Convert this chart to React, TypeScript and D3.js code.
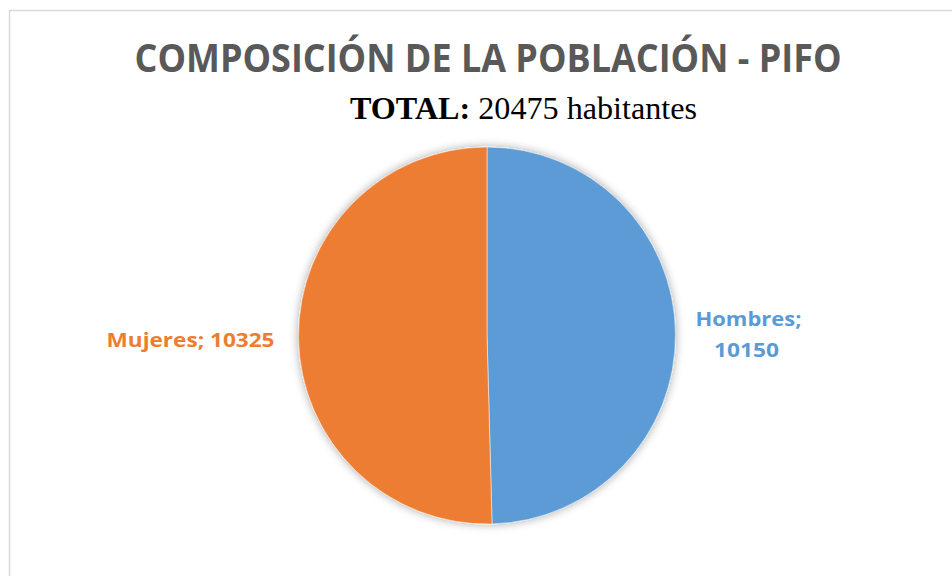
import React from "react";
import * as d3 from "d3";

const categories = ["Hombres", "Mujeres"];
const values = [10150, 10325];
const colors = ["#5b9bd5", "#ed7d31"];
const title = "COMPOSICIÓN DE LA POBLACIÓN - PIFO";
const subtitleBold = "TOTAL:";
const subtitleRest = " 20475 habitantes";

const W = 952;
const H = 576;
const cx = 487;
const cy = 335.5;
const R = 188.5;

export default function App() {
  const data = categories.map((c, i) => ({ name: c, value: values[i], color: colors[i] }));
  const pie = d3.pie<any>().sort(null).value((d: any) => d.value);
  const arcs = pie(data);
  const arcGen = d3.arc<any>().innerRadius(0).outerRadius(R);

  const labelPos = (a: any, dist: number) => {
    const mid = (a.startAngle + a.endAngle) / 2;
    return [cx + Math.sin(mid) * dist, cy - Math.cos(mid) * dist];
  };

  const hom = arcs[0];
  const muj = arcs[1];
  const [hx] = labelPos(hom, R + 73);
  const [mx] = labelPos(muj, R + 108);

  return (
    <svg
      width={W}
      height={H}
      style={{ position: "absolute", left: 0, top: 0, background: "#fff" }}
    >
      <defs>
        <filter id="sh" x="-20%" y="-20%" width="140%" height="140%">
          <feGaussianBlur in="SourceAlpha" stdDeviation="5" />
          <feOffset dx="0" dy="0" result="b" />
          <feComponentTransfer>
            <feFuncA type="linear" slope="0.35" />
          </feComponentTransfer>
          <feMerge>
            <feMergeNode />
            <feMergeNode in="SourceGraphic" />
          </feMerge>
        </filter>
      </defs>
      <rect x={9.5} y={10.5} width={970} height={600} fill="#fff" stroke="#d9d9d9" strokeWidth={1.5} />
      <text
        x={488}
        y={72}
        textAnchor="middle"
        fontFamily="'Open Sans', sans-serif"
        fontWeight="bold"
        fontSize={40}
        fill="#595959"
        textLength={707}
        lengthAdjust="spacingAndGlyphs"
      >
        {title}
      </text>
      <text
        x={523.5}
        y={119}
        textAnchor="middle"
        fontFamily="'Liberation Serif', 'Times New Roman', serif"
        fontSize={31}
        fill="#000"
        textLength={347}
        lengthAdjust="spacingAndGlyphs"
      >
        <tspan fontWeight="bold">{subtitleBold}</tspan>
        <tspan>{subtitleRest}</tspan>
      </text>
      <g transform={`translate(${cx},${cy})`} filter="url(#sh)">
        {arcs.map((a, i) => (
          <path key={i} d={arcGen(a) as string} fill={a.data.color} stroke="#fff" strokeWidth={0.5} />
        ))}
      </g>
      <g fontFamily="'Open Sans', sans-serif" fontWeight="bold" fontSize={20}>
        <text x={hx} y={326} textAnchor="middle" fill={hom.data.color} textLength={106} lengthAdjust="spacingAndGlyphs">
          {`${hom.data.name};`}
        </text>
        <text x={hx - 2} y={357} textAnchor="middle" fill={hom.data.color} textLength={65} lengthAdjust="spacingAndGlyphs">
          {`${hom.data.value}`}
        </text>
        <text x={mx} y={347} textAnchor="middle" fill={muj.data.color} textLength={168} lengthAdjust="spacingAndGlyphs">
          {`${muj.data.name}; ${muj.data.value}`}
        </text>
      </g>
    </svg>
  );
}
